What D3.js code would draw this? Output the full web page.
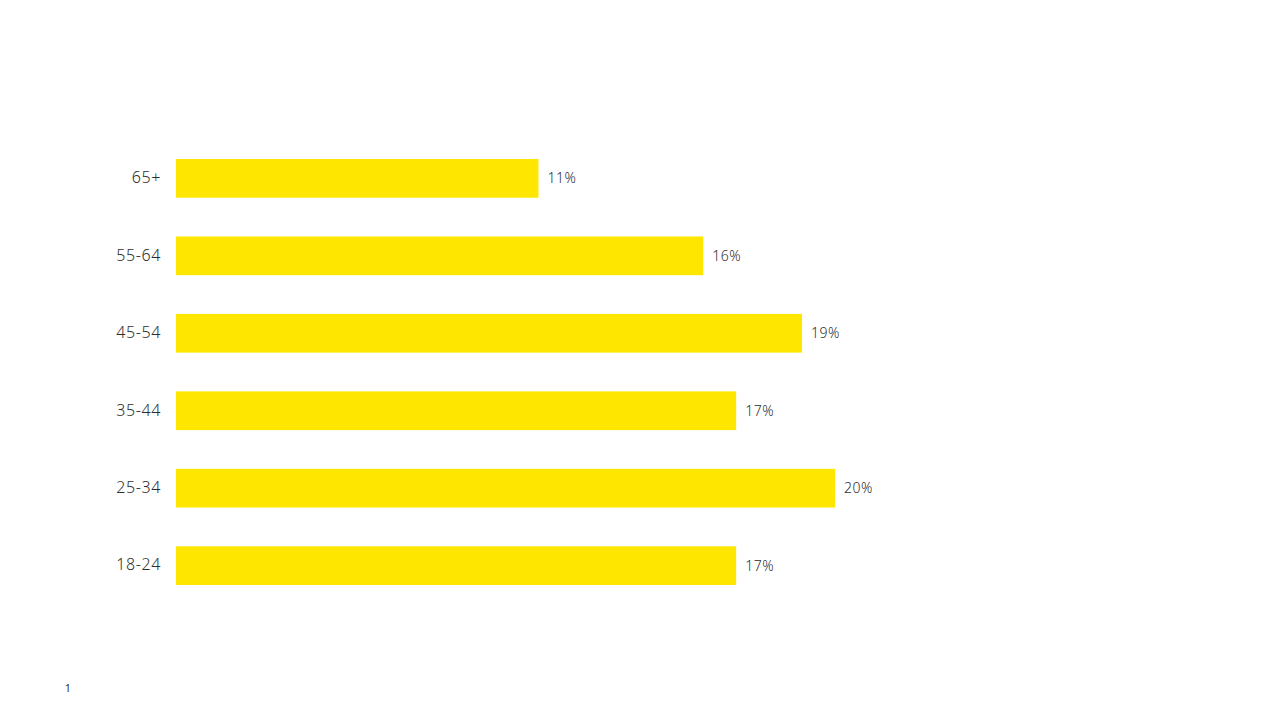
<!DOCTYPE html>
<html>
<head>
<meta charset="utf-8">
<script src="https://cdn.jsdelivr.net/npm/d3@7"></script>
<style>
  body { margin: 0; background: #fff; }
  text { font-family: "Noto Sans", "Open Sans", sans-serif; fill: #2e2e2e; }
</style>
</head>
<body>
<div id="chart"></div>
<script>
const ageGroups = ["65+", "55-64", "45-54", "35-44", "25-34", "18-24"];
const shares = [11, 16, 19, 17, 20, 17];
const pageNumber = "1";

const width = 1281;
const height = 720;

const svg = d3.select("#chart")
  .append("svg")
  .attr("width", width)
  .attr("height", height);

const x = d3.scaleLinear()
  .domain([0, 20])
  .range([176, 835]);

const y = d3.scaleBand()
  .domain(ageGroups)
  .range([159, 585])
  .paddingInner(0.5)
  .paddingOuter(0);

const rows = svg.append("g")
  .selectAll("g")
  .data(ageGroups.map((g, i) => ({ group: g, value: shares[i] })))
  .join("g");

rows.append("rect")
  .attr("x", x(0))
  .attr("y", d => y(d.group))
  .attr("width", d => x(d.value) - x(0))
  .attr("height", y.bandwidth())
  .style("fill", "#FFE600");

// category labels on the left
rows.append("text")
  .attr("x", x(0) - 15)
  .attr("y", d => y(d.group) + y.bandwidth() / 2)
  .attr("dy", "0.3em")
  .attr("text-anchor", "end")
  .style("font-size", "16px")
  .style("font-weight", 300)
  .style("letter-spacing", "0.6px")
  .text(d => d.group);

// value labels
rows.append("text")
  .attr("x", d => x(d.value) + 9)
  .attr("y", d => y(d.group) + y.bandwidth() / 2)
  .attr("dy", "0.35em")
  .style("font-size", "14px")
  .style("font-weight", 300)
  .style("letter-spacing", "0.5px")
  .text(d => d.value + "%");

svg.append("text")
  .attr("x", 65)
  .attr("y", 692)
  .style("font-size", "10px")
  .style("fill", "#222")
  .text(pageNumber);
</script>
</body>
</html>
